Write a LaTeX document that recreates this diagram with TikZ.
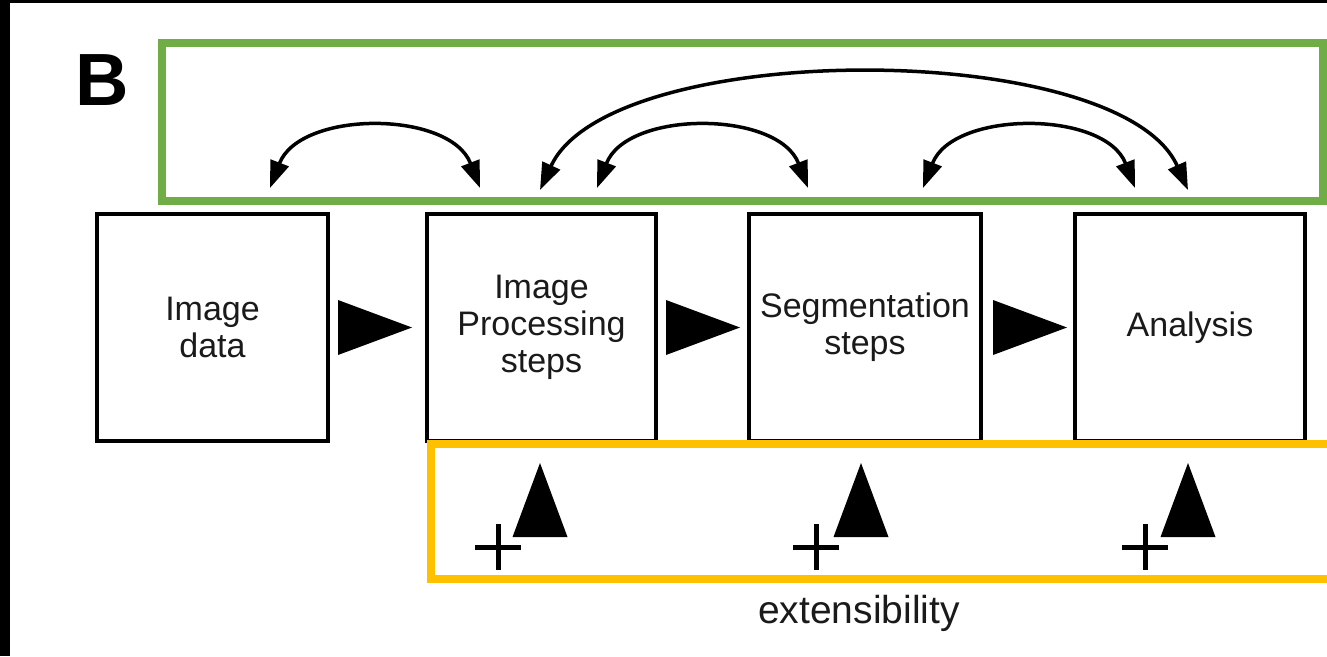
\documentclass[tikz,border=0pt]{standalone}
\usepackage{fontspec}
\setmainfont{Liberation Sans}
\usetikzlibrary{arrows.meta}
\definecolor{grn}{HTML}{70AD47}
\definecolor{ylw}{HTML}{FFC000}
\definecolor{txt}{HTML}{1A1A1A}
\begin{document}
\begin{tikzpicture}[x=1pt,y=-1pt,
  stepbox/.style={draw=black, line width=4pt, minimum width=231pt, minimum height=227pt,
    inner sep=0pt, align=center, font=\fontsize{34}{37}\selectfont, text=txt},
  flowtri/.style={fill=black},
  feedback/.style={line width=3.5pt, {Triangle[length=27pt,width=19pt]}-{Triangle[length=27pt,width=19pt]}},
  frameline/.style={line width=8pt},
  plusmark/.style={line width=5pt}]
\useasboundingbox (0,0) rectangle (1327,656);
\clip (0,0) rectangle (1327,656);
\fill[white] (0,0) rectangle (1327,656);
\fill[black] (0,0) rectangle (10,656);
\fill[black] (0,0) rectangle (1327,3);

% label
\node[font=\bfseries\fontsize{74}{80}\selectfont, anchor=base west, inner sep=0pt] (lab) at (75,105) {B};

% green frame
\draw[frameline, grn] (162,43) rectangle (1323,201);

% boxes
\node[stepbox] (data) at (212.5,327.5) {Image\\data};
\node[stepbox, minimum width=229pt] (proc) at (541.5,327.5) {Image\\Processing\\steps};
\node[stepbox, minimum width=232pt] (seg) at (865,327.5) {Segmentation\\steps};
\node[stepbox, minimum width=230pt] (ana) at (1190,327.5) {Analysis};

% flow triangles
\fill[flowtri] (338,300) -- (412,327.5) -- (338,355) -- cycle;
\fill[flowtri] (666,300) -- (740,327.5) -- (666,355) -- cycle;
\fill[flowtri] (993,300) -- (1067,327.5) -- (993,355) -- cycle;

% feedback arrows
\coordinate (d1) at (270,188);
\coordinate (p1) at (480,188);
\coordinate (p2) at (540,190);
\coordinate (p3) at (597,188);
\coordinate (s1) at (808,188);
\coordinate (s2) at (923,188);
\coordinate (a1) at (1135,188);
\coordinate (a2) at (1188,190);
\draw[feedback] (d1) .. controls (300,110) and (450,110) .. (p1);
\draw[feedback] (p3) .. controls (627,110) and (778,110) .. (s1);
\draw[feedback] (s2) .. controls (953,110) and (1105,110) .. (a1);
\draw[feedback] (p2) .. controls (610,38) and (1120,38) .. (a2);

% yellow frame
\draw[frameline, ylw] (431,444) rectangle (1345,579);

% extensibility marks
\fill[flowtri] (540,463) -- (567.5,537) -- (512.5,537) -- cycle;
\fill[flowtri] (861,463) -- (888.5,537) -- (833.5,537) -- cycle;
\fill[flowtri] (1188,463) -- (1215.5,537) -- (1160.5,537) -- cycle;
\draw[plusmark] (475,547) -- (521,547) (498,524) -- (498,570);
\draw[plusmark] (793,547) -- (839,547) (816,524) -- (816,570);
\draw[plusmark] (1122,547) -- (1168,547) (1145,524) -- (1145,570);

\node[font=\fontsize{39}{45}\selectfont, anchor=base, text=txt, inner sep=0pt] (ext) at (859,623) {extensibility};
\end{tikzpicture}
\end{document}
